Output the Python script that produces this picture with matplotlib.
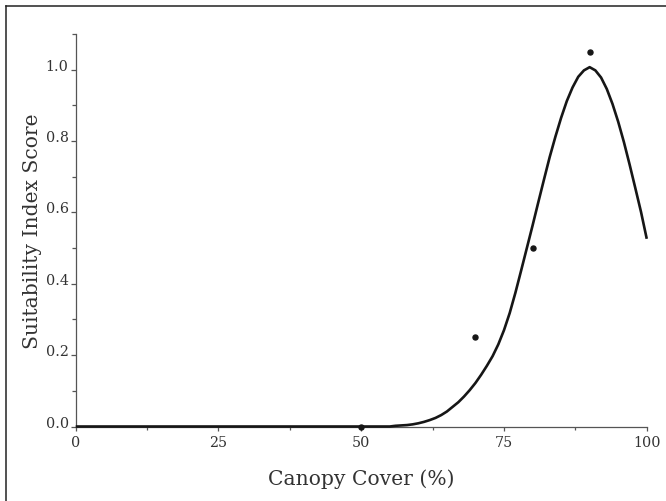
"""Suitability index curve for canopy cover, with observed scores."""

import matplotlib

matplotlib.use("Agg")
import matplotlib.pyplot as plt  # noqa: E402
from matplotlib.lines import Line2D  # noqa: E402
from matplotlib.ticker import FixedLocator, MultipleLocator  # noqa: E402

# observed scores
obs_cover = [50, 70, 80, 90]
obs_score = [0.0, 0.25, 0.50, 1.05]

# fitted curve, values
curve_cover = [0, 50, 55, 56, 57, 58, 59, 60, 61, 62, 63, 64, 65, 66, 67, 68,
               69, 70, 71, 72, 73, 74, 75, 76, 77, 78, 79, 80, 81, 82, 83, 84,
               85, 86, 87, 88, 89, 90, 91, 92, 93, 94, 95, 96, 97, 98, 99, 100]
curve_score = [0.0, 0.0, 0.0, 0.002, 0.003, 0.004, 0.006, 0.009, 0.013, 0.018,
               0.024, 0.032, 0.042, 0.055, 0.068, 0.084, 0.102, 0.122, 0.145,
               0.170, 0.197, 0.230, 0.270, 0.318, 0.375, 0.437, 0.500, 0.563,
               0.628, 0.692, 0.755, 0.812, 0.865, 0.912, 0.950, 0.980, 0.998,
               1.007, 0.998, 0.978, 0.946, 0.904, 0.854, 0.797, 0.734, 0.668,
               0.601, 0.526]

x_ticks = [0, 25, 50, 75, 100]
y_ticks = [0.0, 0.2, 0.4, 0.6, 0.8, 1.0]

plt.rcParams["font.family"] = ["DejaVu Serif"]

fig = plt.figure(figsize=(6.66, 5.02), dpi=100)
ax = fig.add_axes([0.1137, 0.1484, 0.8574, 0.7819])

ax.plot(curve_cover, curve_score, color="#161616", lw=1.9, clip_on=False,
        solid_capstyle="butt", solid_joinstyle="round", zorder=3)
ax.plot(obs_cover, obs_score, "o", color="#161616", ms=3.6, clip_on=False,
        zorder=4)

ax.set_xlim(0, 100)
ax.set_ylim(0, 1.1)
for side in ("top", "right"):
    ax.spines[side].set_visible(False)
for side in ("left", "bottom"):
    ax.spines[side].set_color("#555555")
    ax.spines[side].set_linewidth(0.9)

ax.xaxis.set_major_locator(FixedLocator(x_ticks))
ax.xaxis.set_minor_locator(MultipleLocator(12.5))
ax.yaxis.set_major_locator(FixedLocator(y_ticks))
ax.yaxis.set_minor_locator(MultipleLocator(0.1))
ax.set_xticklabels([str(t) for t in x_ticks])
ax.set_yticklabels([f"{t:.1f}" for t in y_ticks])
ax.tick_params(which="both", direction="out", color="#555555", width=0.9,
               labelsize=10.3, labelcolor="#333333")
ax.tick_params(axis="x", which="major", length=3.2, pad=3)
ax.tick_params(axis="x", which="minor", length=2.2)
ax.tick_params(axis="y", which="major", length=3.6, pad=1.5)
ax.tick_params(axis="y", which="minor", length=3.0)
for lab in ax.get_yticklabels():
    lab.set_verticalalignment("baseline")

ax.set_xlabel("Canopy Cover (%)", fontsize=14.6, color="#333333")
ax.set_ylabel("Suitability Index Score", fontsize=14.6, color="#333333")
ax.xaxis.set_label_coords(0.5, -0.106)
ax.yaxis.set_label_coords(-0.075, 0.5)
ax.yaxis.label.set_verticalalignment("center")

# frame lines at top and left of the figure
fig.add_artist(Line2D([5.7 / 666, 5.7 / 666], [0, 1 - 7.3 / 502],
                      color="#222222", lw=1.1, transform=fig.transFigure))
fig.add_artist(Line2D([5.7 / 666, 1], [1 - 7.3 / 502, 1 - 7.3 / 502],
                      color="#222222", lw=1.1, transform=fig.transFigure))

fig.savefig("out.png", dpi=100)
